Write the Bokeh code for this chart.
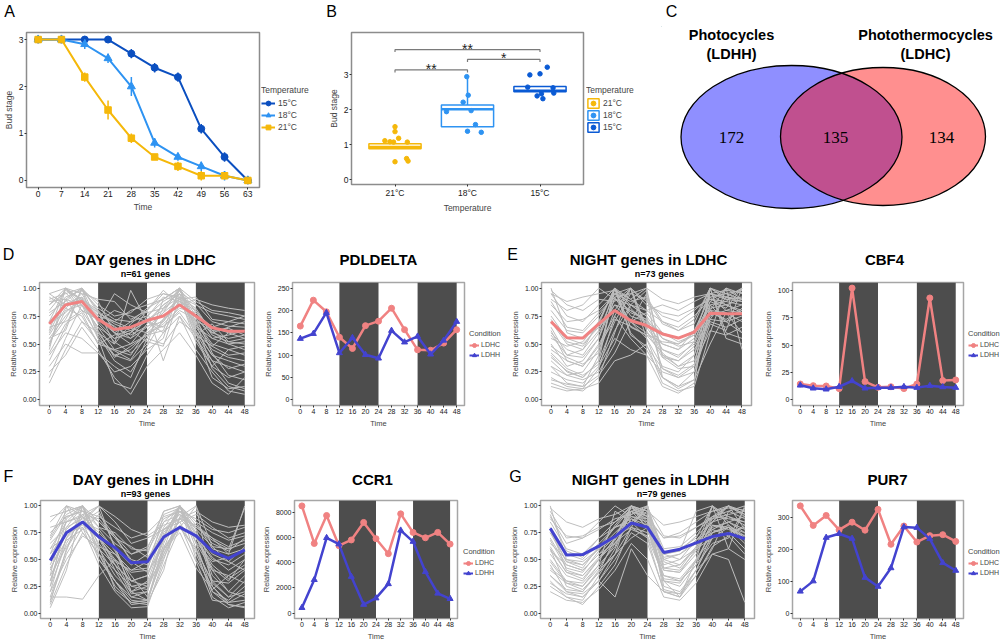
from bokeh.plotting import figure
from bokeh.layouts import row, column
from bokeh.models import Range1d, FixedTicker, Legend, LegendItem, NumeralTickFormatter
from bokeh.core.properties import value
from bokeh.embed import file_html
from bokeh.resources import INLINE

# ---------------- data: panel A ----------------
weeks = [0, 7, 14, 21, 28, 35, 42, 49, 56, 63]
bud_15 = [3, 3, 3, 3, 2.7, 2.4, 2.2, 1.1, 0.5, 0]
bud_18 = [3, 3, 2.9, 2.6, 2.0, 0.8, 0.5, 0.3, 0.1, 0]
bud_21 = [3, 3, 2.2, 1.5, 0.9, 0.5, 0.3, 0.1, 0.1, 0]
err_15 = [0, 0, 0, 0, 0.1, 0.1, 0.1, 0.1, 0.1, 0]
err_18 = [0, 0, 0.1, 0.1, 0.2, 0.1, 0.08, 0.1, 0.1, 0]
err_21 = [0, 0, 0.1, 0.2, 0.1, 0.04, 0.1, 0.1, 0.08, 0]

# ---------------- data: panel B ----------------
b_groups = ["21°C", "18°C", "15°C"]
b_q1 = [0.88, 1.51, 2.51]
b_med = [0.93, 2.01, 2.54]
b_q3 = [1.02, 2.13, 2.66]
b_whi = [1.02, 2.96, 2.66]
b_pts_dx = [[0, 0, 0.05, -0.14, -0.07, -0.02, 0.17, 0.16, 0.18, 0],
            [-0.01, 0.01, -0.06, 0.05, -0.29, 0.11, 0, 0.19],
            [0.1, 0, -0.14, -0.17, 0.18, 0.02, -0.04, 0.04, 0.19]]
b_pts_y = [[1.51, 1.37, 1.18, 1.11, 1.08, 1.07, 1.07, 0.60, 0.53, 0.51],
           [2.94, 2.41, 2.21, 1.97, 1.94, 1.57, 1.38, 1.35],
           [3.21, 3.02, 2.99, 2.64, 2.62, 2.45, 2.39, 2.31, 2.47]]
sig_from = [1, 2, 1]
sig_to = [2, 3, 3]
sig_y = [3.13, 3.43, 3.71]
sig_text = ["**", "*", "**"]

# ---------------- data: panel C ----------------
venn_sets = [("Photocycles", "(LDHH)"), ("Photothermocycles", "(LDHC)")]
venn_counts = [172, 135, 134]

# ---------------- data: panels D-G ----------------
hours = [0, 4, 8, 12, 16, 20, 24, 28, 32, 36, 40, 44, 48]
dark_start = [12, 36]
dark_end = [24, 48]

day_ldhc_mean = [0.68, 0.85, 0.88, 0.72, 0.63, 0.65, 0.71, 0.75, 0.85, 0.75, 0.645, 0.615, 0.615]
day_ldhc_genes = [
    [.85, 1.0, .95, .70, .55, .60, .72, .80, .98, .75, .55, .50, .52],
    [.60, .90, 1.0, .80, .65, .58, .66, .70, .92, .82, .60, .55, .58],
    [.15, .45, .70, .60, .40, .35, .50, .90, 1.0, .55, .30, .20, .25],
    [.95, .85, .90, .75, .70, .80, .85, .90, 1.0, .88, .80, .78, .75],
    [.50, .80, .85, .55, .40, .45, .60, .72, .95, .60, .35, .15, .10],
    [.70, 1.0, .88, .70, .80, .75, .70, .65, .80, .72, .60, .65, .70],
    [.40, .60, .55, .42, .25, .30, .45, .55, 1.0, .62, .40, .35, .30],
    [.90, .95, 1.0, .85, .75, .78, .90, .95, .92, .85, .78, .75, .72],
    [.55, .75, .90, .60, .50, .98, .70, .60, .85, .70, .65, .60, .62],
    [.35, .65, 1.0, .55, .15, .10, .40, .60, .75, .45, .25, .08, .05],
    [.80, .98, .90, .78, .68, .62, .70, .85, .95, .80, .58, .52, .55],
    [.65, .70, .80, .72, .60, .55, .65, .78, 1.0, .70, .50, .45, .48],
    [.30, .50, .42, .42, .30, .20, .55, .50, .70, .60, .20, .10, .12],
    [.75, .92, .98, .82, .72, .70, .75, .88, .97, .86, .70, .66, .65],
    [.58, .82, .75, .50, .45, .40, .62, .78, .90, .58, .48, .40, .42],
    [.45, 1.0, .85, .65, .55, .60, .80, .35, .75, .55, .35, .30, .25],
    [.88, .90, .85, .70, .95, .85, .78, .82, 1.0, .78, .65, .70, .68],
    [.68, .78, .92, .62, .38, .48, .58, .70, .88, .68, .48, .60, .55],
    [.95, 1.0, .90, .80, .50, .68, .80, .95, .90, .92, .72, .70, .75],
    [.52, .72, .98, .88, .60, .50, .58, .68, .82, .78, .62, .50, .45],
    [.20, .55, .85, .65, .45, .50, .68, .85, .95, .70, .28, .12, .08],
    [.78, .88, 1.0, .68, .52, .42, .55, .82, .92, .65, .45, .38, .35],
    [.62, 1.0, .80, .58, .35, .25, .48, .72, .86, .74, .42, .22, .18],
    [.92, .82, .95, .90, .88, .72, .80, .98, .85, .90, .85, .82, .80],
    [.42, .68, .78, .50, .58, .62, .52, .48, .92, .52, .30, .45, .40],
    [.70, .86, .92, .76, .60, .70, .82, .90, 1.0, .66, .55, .58, .62],
    [.25, .40, .65, .45, .20, .05, .30, .45, .60, .40, .15, .05, .20],
    [.85, .96, .80, .72, .66, .55, .74, .92, .88, .80, .62, .64, .58],
    [.55, .62, 1.0, .78, .70, .64, .60, .66, .78, .58, .68, .52, .50],
    [.48, .90, .70, .52, .44, .36, .58, .62, 1.0, .62, .40, .28, .32],
]

night_ldhc_mean = [0.70, 0.556, 0.553, 0.68, 0.80, 0.71, 0.665, 0.59, 0.553, 0.607, 0.775, 0.77, 0.77]
night_ldhc_genes = [
    [.70, .50, .45, .70, 1.0, .85, .75, .55, .50, .60, .95, .90, .92],
    [1.0, .60, .55, .65, .85, .80, .70, .60, .55, .62, .82, .85, .80],
    [.30, .15, .12, .40, 1.0, .60, .45, .20, .12, .25, .80, .70, .75],
    [.85, .70, .72, .80, .95, 1.0, .88, .75, .70, .80, .92, .95, .98],
    [.40, .25, .20, .35, .70, .95, 1.0, .40, .30, .35, .75, .80, .85],
    [.60, .45, .40, .60, .85, .70, .60, .50, .45, .55, 1.0, .90, .88],
    [.15, .10, .08, .20, .60, 1.0, .55, .20, .10, .18, .85, .70, .60],
    [.90, .80, .85, 1.0, .90, .85, .80, .85, .80, .88, .95, .92, .90],
    [.50, .30, .35, .55, 1.0, .75, .70, .40, .35, .45, .70, .65, .72],
    [.75, .55, .50, .65, .80, .70, .78, .60, .52, .58, .88, 1.0, .95],
    [.25, .18, .15, .30, .55, .45, .40, .25, .20, .30, 1.0, .60, .55],
    [.95, .75, .70, .85, 1.0, .90, .80, .70, .65, .75, .90, .85, .90],
    [.45, .35, .30, .50, .75, 1.0, .65, .45, .40, .50, .80, .78, .70],
    [.65, .40, .38, .55, .90, .80, .72, .55, .48, .52, .85, .88, 1.0],
    [.20, .12, .10, .15, .35, .40, .50, .15, .08, .12, .60, 1.0, .45],
    [.80, .62, .60, .75, .95, .88, .92, .70, .62, .68, 1.0, .95, .90],
    [.55, .48, .52, .70, 1.0, .65, .58, .52, .50, .58, .78, .72, .80],
    [.35, .22, .25, .45, .92, .70, .55, .30, .25, .40, .95, .85, .78],
    [.98, .85, .80, .90, .88, 1.0, .85, .78, .75, .82, .90, .88, .85],
    [.42, .28, .22, .32, .62, .85, .98, .38, .28, .30, .72, .92, 1.0],
    [.12, .08, .10, .28, .75, .55, .40, .12, .06, .15, 1.0, .55, .50],
    [.58, .40, .45, .62, .95, .78, .72, .45, .38, .52, .88, .82, 1.0],
    [.88, .65, .62, .78, .92, .95, .90, .68, .62, .72, 1.0, .92, .88],
    [.30, .22, .18, .25, .50, .85, .75, .28, .20, .25, .68, .62, 1.0],
    [.72, .52, .48, .68, 1.0, .82, .68, .50, .45, .62, .92, .80, .78],
    [.18, .14, .12, .22, .42, .70, .95, .20, .12, .18, .50, .78, .60],
    [.95, .88, .92, .95, .98, .90, 1.0, .90, .86, .92, .95, .98, .96],
    [.48, .38, .32, .42, .80, 1.0, .62, .38, .35, .48, .72, .70, .82],
    [.62, .35, .30, .48, .72, .66, .58, .42, .30, .40, .80, 1.0, .90],
    [.38, .26, .20, .35, 1.0, .58, .48, .28, .22, .32, .62, .58, .65],
]

day_ldhh_mean = [0.49, 0.75, 0.85, 0.71, 0.61, 0.47, 0.48, 0.71, 0.80, 0.72, 0.575, 0.51, 0.59]
day_ldhh_genes = [
    [.30, .80, 1.0, .70, .40, .15, .20, .75, .95, .70, .40, .20, .35],
    [.55, .90, .95, .85, .70, .50, .45, .80, 1.0, .85, .60, .55, .60],
    [.10, .60, .85, 1.0, .60, .30, .25, .55, .90, .75, .30, .15, .20],
    [.70, .95, 1.0, .80, .75, .60, .58, .85, .92, .80, .70, .62, .68],
    [.20, .70, .85, .50, .30, .08, .10, .60, 1.0, .50, .25, .10, .12],
    [.60, .85, .90, .75, .60, .45, .55, .95, 1.0, .82, .65, .58, .70],
    [.05, .40, 1.0, .55, .25, .10, .08, .45, .80, .60, .15, .05, .10],
    [.85, 1.0, .95, .90, .80, .70, .75, .90, .95, .88, .78, .75, .80],
    [.40, .75, .80, .60, .45, .30, .35, .70, 1.0, .65, .40, .35, .45],
    [.15, .15, .13, .35, .50, .20, .12, .65, 1.0, .78, .35, .20, .15],
    [.65, .80, .88, 1.0, .85, .65, .70, .78, .85, .92, .80, .70, .75],
    [.25, .65, .90, .60, .35, .20, .30, .70, .85, .55, .20, .12, .25],
    [.50, .85, 1.0, .70, .55, .40, .42, .78, .88, .72, .50, .45, .55],
    [.35, 1.0, .75, .55, .40, .25, .28, .60, .80, .58, .30, .28, .40],
    [.75, .90, .95, .80, .65, .55, .60, .95, 1.0, .85, .75, .68, .72],
    [.12, .55, .80, .45, .20, .05, .06, .50, .90, 1.0, .25, .08, .06],
    [.45, .78, .92, .88, .70, .62, .52, .72, 1.0, .66, .48, .52, .58],
    [.20, .50, .72, .62, .55, .35, .15, .52, .82, .70, .42, .30, .50],
    [.90, .95, 1.0, .70, .50, .38, .40, .92, .98, .75, .55, .48, .62],
    [.60, .72, .85, .95, .62, .20, .25, .68, .95, .78, .62, .60, .98],
    [.08, .45, .75, .55, .30, .12, .10, .40, 1.0, .65, .20, .08, .05],
    [.68, .92, 1.0, .85, .72, .55, .62, .88, .95, .80, .68, .60, .65],
    [.30, .70, .92, .72, .45, .18, .20, .72, 1.0, .60, .28, .15, .30],
    [.80, .85, .92, 1.0, .90, .78, .72, .82, .88, .95, .85, .80, .82],
    [.15, .58, 1.0, .62, .22, .10, .12, .55, .82, .48, .12, .10, .18],
    [.55, .75, .82, .70, .48, .40, .48, .85, 1.0, .72, .52, .40, .50],
    [.25, .88, 1.0, .50, .30, .15, .12, .60, .75, .42, .22, .35, .28],
    [.42, .68, .78, .92, .72, .48, .38, .62, .80, 1.0, .62, .48, .40],
    [.72, 1.0, .90, .65, .45, .30, .35, .78, .92, .70, .45, .32, .42],
    [.35, .62, .85, .78, .58, .25, .22, .58, .88, .82, .70, .55, 1.0],
]

night_ldhh_mean = [0.79, 0.543, 0.546, 0.625, 0.714, 0.84, 0.80, 0.566, 0.596, 0.655, 0.714, 0.743, 0.693]
night_ldhh_genes = [
    [1.0, .50, .45, .60, .75, .90, .85, .50, .55, .65, .75, .80, .70],
    [.80, .40, .35, .50, .70, 1.0, .90, .45, .50, .60, .80, .85, .75],
    [.30, .15, .12, .35, .60, .95, 1.0, .25, .20, .40, .70, .75, .60],
    [.95, .70, .72, .80, .85, .95, .90, .70, .75, .85, .95, 1.0, .92],
    [.60, .25, .20, .40, .55, 1.0, .85, .30, .28, .50, .75, .80, .65],
    [.75, .55, .50, .65, .80, .85, .95, .55, .60, .70, 1.0, .90, .85],
    [.25, .15, .08, .25, .45, .80, .70, .20, .15, .35, .60, .95, 1.0],
    [.90, .65, .70, .85, 1.0, .90, .88, .70, .72, .80, .88, .92, .95],
    [.55, .35, .30, .50, .70, .95, .80, .40, .38, .55, .85, 1.0, .78],
    [.70, .45, .40, .55, .65, .85, 1.0, .50, .45, .60, .70, .75, .80],
    [.45, .20, .18, .30, .15, .60, .35, .20, .15, .40, .55, .50, .10],
    [.85, .60, .55, .70, .85, 1.0, .95, .60, .62, .75, .90, .88, .85],
    [.50, .30, .25, .45, .95, .85, .70, .35, .30, .45, .65, .70, .98],
    [.65, .50, .48, .60, .72, .80, .75, .55, .58, .95, 1.0, .82, .70],
    [.35, .22, .20, .38, .55, .70, .80, .30, .15, .50, 1.0, .60, .50],
    [.78, .48, .42, .62, .80, .98, .90, .52, .55, .68, .85, .90, .82],
    [.98, .85, .80, .88, .92, 1.0, .95, .82, .85, .90, .95, .98, .96],
    [.40, .28, .25, .42, .65, .88, .78, .32, .30, .48, .78, .85, .90],
    [.60, .38, .35, .52, .68, .92, 1.0, .42, .40, .58, .82, .78, .72],
    [.28, .18, .15, .30, .50, .75, .65, .22, .18, .35, .62, .72, .55],
    [.68, .42, .38, .58, .82, 1.0, .92, .48, .42, .62, .90, .95, .88],
    [.35, .20, .15, .30, .55, .80, 1.0, .20, .18, .40, .75, .82, .72],
    [.88, .72, .70, .78, .88, .92, .98, .72, .70, .80, .90, 1.0, .95],
    [.48, .28, .22, .38, .70, 1.0, .78, .30, .25, .45, .82, .80, .68],
    [.92, .58, .52, .70, .80, .88, .82, .55, .58, .72, .85, 1.0, .90],
    [.20, .12, .10, .22, .40, .65, .50, .15, .12, .28, .55, .60, 1.0],
    [.58, .45, .40, .55, .72, .95, .88, .42, .45, .62, 1.0, .85, .78],
    [.75, .48, .45, .60, .70, .82, 1.0, .55, .50, .68, .78, .72, .82],
    [.42, .30, .28, .45, .62, 1.0, .82, .35, .32, .50, .70, .80, .75],
    [.62, .38, .32, .50, .66, .78, .72, .40, .38, .60, .88, 1.0, .92],
]

pdldelta_ldhc = [165, 223, 197, 140, 115, 166, 176, 205, 157, 112, 111, 127, 157]
pdldelta_ldhh = [137, 148, 195, 105, 139, 101, 93, 155, 129, 142, 102, 133, 175]
cbf4_ldhc = [14.5, 13, 12.7, 10.3, 102, 16.7, 11.5, 12, 10.3, 14.5, 93, 17.6, 18.2]
cbf4_ldhh = [13.3, 10.6, 9.7, 12, 17.3, 10.6, 11.2, 11.2, 12, 11.2, 13, 11.8, 11.2]
ccr1_ldhc = [8510, 5530, 7750, 5350, 5810, 7200, 5910, 4720, 7880, 6410, 5980, 6410, 5480]
ccr1_ldhh = [430, 2650, 5980, 5480, 2900, 680, 1190, 2320, 6570, 5680, 3280, 1570, 1140]
pur7_ldhc = [335, 274, 305, 260, 284, 259, 324, 215, 272, 222, 242, 245, 224]
pur7_ldhh = [68, 100, 236, 248, 233, 111, 83, 141, 269, 267, 232, 157, 133]

# ---------------- styling / layout ----------------
FONT = "Liberation Sans"
C15, C18, C21 = "#0b4fc0", "#2e93f2", "#f5b80a"
C15B = "#0a5ad4"
PINK, BLUE = "#f08282", "#4343cf"
BAND, GRAY = "#4d4d4d", "#bebebe"
OFF = (-1000, -999)   # x range of legend-only figures: their marks stay out of view


def base_fig(w, h, xr, yr, borders, axes=True):
    kw = {} if axes else dict(x_axis_location=None, y_axis_location=None)
    p = figure(width=w, height=h, x_range=Range1d(*xr), y_range=Range1d(*yr),
               min_border_left=borders[0], min_border_top=borders[1],
               min_border_right=borders[2], min_border_bottom=borders[3],
               output_backend="svg", toolbar_location=None, title=None, **kw)
    p.frame_align = False
    p.xgrid.visible = False
    p.ygrid.visible = False
    p.background_fill_color = "white"
    p.border_fill_color = "white"
    return p


def make_fig(box, frame, xr, yr):
    x0, y0, x1, y1 = box
    fl, ft, fr, fb = frame
    p = base_fig(x1 - x0, y1 - y0, xr, yr, (fl - x0, ft - y0, x1 - fr, y1 - fb))
    p.outline_line_color = "#a6a6a6"
    p.outline_line_width = 1.5
    return p


def make_strip(x0, y0, x1, y1, xr=None):
    p = base_fig(x1 - x0, y1 - y0, xr or (x0, x1), (y1, y0), (0, 0, 0, 0), axes=False)
    p.outline_line_color = None
    return p


def strip_text(p, xs, ys, texts, px, bold=False, font=FONT):
    p.text(x=xs, y=ys, text=texts, text_font=value(font), text_font_size=f"{px}px",
           text_font_style="bold" if bold else "normal", text_align="center",
           text_baseline="middle", text_color="black")


def style_axes(p, tick_px, label_px, xlabel, ylabel):
    p.xaxis.axis_label = xlabel
    p.yaxis.axis_label = ylabel
    p.axis.axis_line_color = None
    p.axis.major_tick_line_color = "#333333"
    p.axis.major_tick_out = 2
    p.axis.major_tick_in = 0
    p.axis.minor_tick_line_color = None
    p.axis.major_label_text_font = FONT
    p.axis.major_label_text_font_size = f"{tick_px}px"
    p.axis.major_label_text_color = "#1a1a1a"
    p.axis.major_label_standoff = 1
    p.axis.axis_label_text_font = FONT
    p.axis.axis_label_text_font_size = f"{label_px}px"
    p.axis.axis_label_text_font_style = "normal"
    p.axis.axis_label_standoff = 2


def legend_fig(box, entries, title, left, top, title_px, label_px, item_h, glyph_w, standoff=3):
    """A figure holding only a legend; its series are drawn outside its (shifted) x range."""
    p = make_strip(*box, xr=OFF)
    items = []
    for lab, col, mk, kind, xs, ys in entries:
        if kind == "line":
            rs = [p.line(xs, ys, line_color=col, line_width=2),
                  p.scatter(xs, ys, marker=mk, size=6, color=col)]
        else:
            rs = [p.vbar(x=xs, width=0.7, bottom=[ys[0]], top=[ys[1]], fill_color="white",
                         line_color=col, line_width=1.5),
                  p.scatter(xs, [ys[2]], marker=mk, size=4, color=col)]
        items.append(LegendItem(label=lab, renderers=rs))
    H = title_px * 1.2 + 2 + len(entries) * item_h
    leg = Legend(items=items, title=title,
                 location=(left - box[0], box[3] - top - H),
                 orientation="vertical", padding=0, margin=0, spacing=0,
                 glyph_width=int(glyph_w), glyph_height=int(item_h), label_height=int(item_h),
                 label_standoff=standoff, title_standoff=2,
                 label_text_font=FONT, label_text_font_size=f"{label_px}px",
                 title_text_font=FONT, title_text_font_size=f"{title_px}px",
                 title_text_font_style="normal",
                 background_fill_alpha=0, border_line_color=None)
    p.add_layout(leg)
    return p


# ---------------- top strip (letters A, B) ----------------
strip_ab = make_strip(0, 0, 662, 26)
strip_text(strip_ab, [9, 331], [11, 11], ["A", "B"], 16)

# ---------------- panel A ----------------
pa = make_fig((0, 26, 261, 215), (22, 32, 259, 187), (-3.5, 66.5), (-0.15, 3.15))
for ys, es, col, mk, sz in [(bud_15, err_15, C15, "circle", 7),
                            (bud_18, err_18, C18, "triangle", 8),
                            (bud_21, err_21, C21, "square", 6.5)]:
    pa.segment(x0=weeks, x1=weeks, y0=[y - e for y, e in zip(ys, es)],
               y1=[y + e for y, e in zip(ys, es)], line_color=col, line_width=1.5)
    pa.line(weeks, ys, line_color=col, line_width=2)
    pa.scatter(weeks, ys, marker=mk, size=sz, color=col)
pa.xaxis.ticker = FixedTicker(ticks=weeks)
pa.yaxis.ticker = FixedTicker(ticks=[0, 1, 2, 3])
style_axes(pa, 8.5, 8.5, "Time", "Bud stage")
pa.outline_line_color = "#8c8c8c"
leg_a = legend_fig((261, 26, 325, 215),
                   [("15°C", C15, "circle", "line", weeks, bud_15),
                    ("18°C", C18, "triangle", "line", weeks, bud_18),
                    ("21°C", C21, "square", "line", weeks, bud_21)],
                   "Temperature", 261, 85, 8.5, 8.5, 12, 14)

# ---------------- panel B ----------------
pb = make_fig((325, 26, 586, 215), (348, 32, 583, 184), (0.4, 3.6), (-0.14, 4.2))
b_cols = [C21, C18, C15B]
for i, grp in enumerate(b_groups):
    pos = i + 1
    col = b_cols[i]
    pb.segment(x0=[pos], x1=[pos], y0=[b_q3[i]], y1=[b_whi[i]], line_color=col, line_width=1.5)
    pb.vbar(x=[pos], width=0.72, bottom=[b_q1[i]], top=[b_q3[i]], fill_color="white",
            line_color=col, line_width=1.5)
    pb.segment(x0=[pos - 0.36], x1=[pos + 0.36], y0=[b_med[i]], y1=[b_med[i]],
               line_color=col, line_width=2.5)
    pb.scatter([pos + d for d in b_pts_dx[i]], b_pts_y[i], marker="circle", size=4.5, color=col)
for a, b, y, t in zip(sig_from, sig_to, sig_y, sig_text):
    pb.line([a, a, b, b], [y - 0.07, y, y, y - 0.07], line_color="#7a7a7a", line_width=1.2)
    pb.text(x=[(a + b) / 2], y=[y + 0.03], text=[t], text_font=value(FONT), text_font_size="14px",
            text_align="center", text_baseline="alphabetic", text_color="#222222")
pb.xaxis.ticker = FixedTicker(ticks=[1, 2, 3])
pb.xaxis.major_label_overrides = {1: b_groups[0], 2: b_groups[1], 3: b_groups[2]}
pb.yaxis.ticker = FixedTicker(ticks=[0, 1, 2, 3])
style_axes(pb, 8.5, 8.5, "Temperature", "Bud stage")
pb.outline_line_color = "#8c8c8c"
leg_b = legend_fig((586, 26, 662, 215),
                   [(b_groups[i], b_cols[i], "circle", "box", [i + 1], (b_q1[i], b_q3[i], b_med[i]))
                    for i in range(3)],
                   "Temperature", 586, 85, 8.5, 8.5, 12, 14)

# ---------------- panel C ----------------
pc = make_strip(662, 0, 1000, 215)
ell_x = [791, 882.5]
ell_y = [136.5, 136]
ell_w = [221, 205]
ell_h = [143, 138]
pc.ellipse(x=ell_x[:1], y=ell_y[:1], width=ell_w[:1], height=ell_h[:1],
           fill_color="blue", fill_alpha=0.44, line_color=None)
pc.ellipse(x=ell_x[1:], y=ell_y[1:], width=ell_w[1:], height=ell_h[1:],
           fill_color="red", fill_alpha=0.44, line_color=None)
pc.ellipse(x=ell_x, y=ell_y, width=ell_w, height=ell_h, fill_color=None,
           line_color="black", line_width=1.3)
strip_text(pc, [731, 835, 941], [137, 137, 137], [str(v) for v in venn_counts], 17,
           font="Liberation Serif")
strip_text(pc, [731, 731, 925, 925], [34, 53, 34, 53],
           [venn_sets[0][0], venn_sets[0][1], venn_sets[1][0], venn_sets[1][1]], 14.5, bold=True)
strip_text(pc, [671], [11], ["C"], 16)


# ---------------- panels D-G ----------------
def gene_panel(box, frame, genes, mean, mean_color):
    p = make_fig(box, frame, (-2.4, 50.4), (-0.05, 1.05))
    p.quad(left=dark_start, right=dark_end, bottom=-0.05, top=1.05, fill_color=BAND, line_color=None)
    p.multi_line([hours] * len(genes), genes, line_color=GRAY, line_width=1)
    p.line(hours, mean, line_color=mean_color, line_width=3)
    p.xaxis.ticker = FixedTicker(ticks=hours)
    p.yaxis.ticker = FixedTicker(ticks=[0, 0.25, 0.5, 0.75, 1.0])
    p.yaxis.formatter = NumeralTickFormatter(format="0.00")
    style_axes(p, 7, 7.5, "Time", "Relative expression")
    return p


def cond_panel(box, frame, yr, yticks, ldhc, ldhh):
    p = make_fig(box, frame, (-2.4, 50.4), yr)
    p.quad(left=dark_start, right=dark_end, bottom=yr[0], top=yr[1], fill_color=BAND, line_color=None)
    p.line(hours, ldhc, line_color=PINK, line_width=2.5)
    p.scatter(hours, ldhc, marker="circle", size=6, color=PINK)
    p.line(hours, ldhh, line_color=BLUE, line_width=2.5)
    p.scatter(hours, ldhh, marker="triangle", size=6, color=BLUE)
    p.xaxis.ticker = FixedTicker(ticks=hours)
    p.yaxis.ticker = FixedTicker(ticks=yticks)
    style_axes(p, 7, 7.5, "Time", "Relative expression")
    return p


def cond_legend(box, left, top, ldhc, ldhh):
    return legend_fig(box, [("LDHC", PINK, "circle", "line", hours, ldhc),
                            ("LDHH", BLUE, "triangle", "line", hours, ldhh)],
                      "Condition", left, top, 7.5, 7, 10, 10, standoff=2)


strip_mid = make_strip(0, 215, 1000, 280)
strip_text(strip_mid, [8, 512], [254, 254], ["D", "E"], 16)
strip_text(strip_mid, [145, 378, 648, 884], [258.5, 258.5, 258.5, 258.5],
           ["DAY genes in LDHC", "PDLDELTA", "NIGHT genes in LDHC", "CBF4"], 15, bold=True)
strip_text(strip_mid, [145, 659], [273.5, 273.5], ["n=61 genes", "n=73 genes"], 9, bold=True)

pd_ = gene_panel((0, 280, 258, 435), (39, 282, 254, 405), day_ldhc_genes, day_ldhc_mean, PINK)
pp = cond_panel((258, 280, 466, 435), (292, 282, 464, 405), (-12.5, 262.5),
                [0, 50, 100, 150, 200, 250], pdldelta_ldhc, pdldelta_ldhh)
lp = cond_legend((466, 280, 503, 435), 469, 328.5, pdldelta_ldhc, pdldelta_ldhh)
pe = gene_panel((503, 280, 757, 435), (541, 282, 751, 405), night_ldhc_genes, night_ldhc_mean, PINK)
pcb = cond_panel((757, 280, 965, 435), (792, 282, 963, 405), (-5.1, 107.1),
                 [0, 25, 50, 75, 100], cbf4_ldhc, cbf4_ldhh)
lcb = cond_legend((965, 280, 1000, 435), 968, 328.5, cbf4_ldhc, cbf4_ldhh)

strip_bot = make_strip(0, 435, 1000, 499)
strip_text(strip_bot, [8, 515], [476, 476], ["F", "G"], 16)
strip_text(strip_bot, [145, 372, 650, 887], [478.5, 478.5, 478.5, 478.5],
           ["DAY genes in  LDHH", "CCR1", "NIGHT genes in LDHH", "PUR7"], 15, bold=True)
strip_text(strip_bot, [145, 661], [493, 493], ["n=93 genes", "n=79 genes"], 9, bold=True)

pf = gene_panel((0, 499, 258, 643), (40, 500, 254, 624), day_ldhh_genes, day_ldhh_mean, BLUE)
pcc = cond_panel((258, 499, 459, 643), (289, 500, 457, 624), (-425, 8940),
                 [0, 2000, 4000, 6000, 8000], ccr1_ldhc, ccr1_ldhh)
lcc = cond_legend((459, 499, 503, 643), 463, 546.5, ccr1_ldhc, ccr1_ldhh)
pg = gene_panel((503, 499, 757, 643), (540, 500, 754, 624), night_ldhh_genes, night_ldhh_mean, BLUE)
ppu = cond_panel((757, 499, 965, 643), (792, 500, 963, 624), (-16.75, 351.75),
                 [0, 100, 200, 300], pur7_ldhc, pur7_ldhh)
lpu = cond_legend((965, 499, 1000, 643), 968, 546.5, pur7_ldhc, pur7_ldhh)

top = row(column(strip_ab, row(pa, leg_a, pb, leg_b)), pc)
mid = column(strip_mid, row(pd_, pp, lp, pe, pcb, lcb))
bot = column(strip_bot, row(pf, pcc, lcc, pg, ppu, lpu))
layout = column(top, mid, bot)
open("out.html", "w", encoding="utf-8").write(file_html(layout, INLINE))
